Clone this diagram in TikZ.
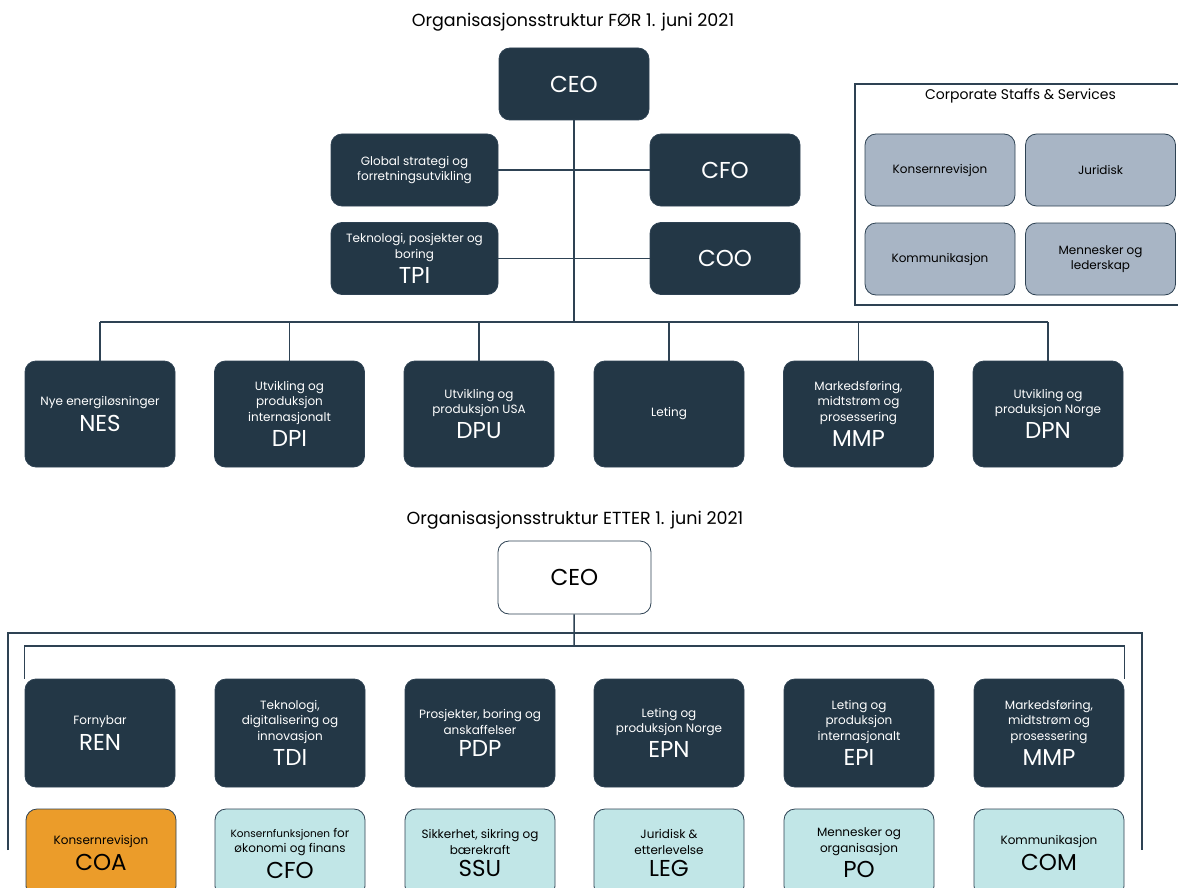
\documentclass[tikz,border=0pt]{standalone}
\usepackage{fontspec}
\setmainfont{Poppins}
\usetikzlibrary{positioning}
\definecolor{navy}{HTML}{233746}
\definecolor{wire}{HTML}{2E4253}
\definecolor{slate}{HTML}{A8B5C5}
\definecolor{amber}{HTML}{EB9C2A}
\definecolor{aqua}{HTML}{C1E6E7}
\newcommand{\boxtext}{\fontsize{12}{15.5}\selectfont}
\newcommand{\bigtext}{\fontsize{23}{26}\selectfont}
\newcommand{\unitcode}[1]{{\bigtext #1}}

\begin{document}
\begin{tikzpicture}[x=1pt,y=-1pt,
  unit/.style={rounded corners=11pt,draw=wire,line width=0.8pt,fill=navy,text=white,
    minimum width=150pt,minimum height=72pt,align=center,inner sep=1pt,font=\boxtext},
  unittall/.style={unit,minimum height=106pt},
  staff/.style={unit,fill=slate,text=black},
  support/.style={unit,fill=aqua,text=black,minimum height=88pt},
  wiring/.style={draw=wire,line width=1.5pt},
  heading/.style={font=\fontsize{17.5}{20}\selectfont}]
  \useasboundingbox[fill=white] (0,0) rectangle (1178,888);
  \def\rowA{414}
  \def\rowB{733}
  \def\rowC{853}
  \node[heading] (titleA) at (573,22) {Organisasjonsstruktur FØR 1. juni 2021};
  \node[unit,font=\bigtext] (ceoA) at (574,84) {CEO};
  \node[unit,minimum width=167pt] (gso) at (414.5,170) {Global strategi og\\forretningsutvikling};
  \node[unit,font=\bigtext] (cfoA) at (725,170) {CFO};
  \node[unit,minimum width=167pt] (tpi) at (414.5,258.5) {Teknologi, posjekter og\\boring\\[5pt]\unitcode{TPI}};
  \node[unit,font=\bigtext] (coo) at (725,258.5) {COO};
  \foreach \name/\x/\txt in {
    nes/100/{Nye energiløsninger\\[5pt]\unitcode{NES}},
    dpi/289.5/{Utvikling og\\produksjon\\internasjonalt\\[5pt]\unitcode{DPI}},
    dpu/479/{Utvikling og\\produksjon USA\\[5pt]\unitcode{DPU}},
    let/669/{Leting},
    mmpA/858.5/{Markedsføring,\\midtstrøm og\\prosessering\\[5pt]\unitcode{MMP}},
    dpn/1048/{Utvikling og\\produksjon Norge\\[5pt]\unitcode{DPN}}}
    \node[unittall] (\name) at (\x,\rowA) {\txt};
  \coordinate (busA) at (574,322);
  \draw[wiring] (ceoA) -- (ceoA |- busA);
  \draw[wiring] (gso) -- (cfoA);
  \draw[wiring] (tpi) -- (coo);
  \draw[wiring] (nes.north |- busA) -- (dpn.north |- busA);
  \foreach \name in {nes,dpi,dpu,let,mmpA,dpn}
    \draw[wiring] (\name) -- (\name.north |- busA);
  \node[draw=wire,line width=1.2pt,minimum width=331pt,minimum height=221pt] (css) at (1020.5,194.5) {};
  \node[font=\fontsize{14}{16}\selectfont,below=2pt of css.north] (csstitle) {Corporate Staffs \& Services};
  \node[staff] (krv) at (940,170) {Konsernrevisjon};
  \node[staff] (jur) at (1100.5,170) {Juridisk};
  \node[staff] (kom) at (940,259) {Kommunikasjon};
  \node[staff] (mol) at (1100.5,259) {Mennesker og\\lederskap};

  \node[heading] (titleB) at (575,520) {Organisasjonsstruktur ETTER 1. juni 2021};
  \node[unit,fill=white,text=black,font=\bigtext,minimum width=153pt,minimum height=73pt] (ceoB) at (574.5,577.5) {CEO};
  \foreach \name/\x/\txt in {
    ren/100/{Fornybar\\[5pt]\unitcode{REN}},
    tdi/290/{Teknologi,\\digitalisering og\\innovasjon\\[5pt]\unitcode{TDI}},
    pdp/480/{Prosjekter, boring og\\anskaffelser\\[5pt]\unitcode{PDP}},
    epn/669/{Leting og\\produksjon Norge\\[5pt]\unitcode{EPN}},
    epi/859/{Leting og\\produksjon\\internasjonalt\\[5pt]\unitcode{EPI}},
    mmpB/1049/{Markedsføring,\\midtstrøm og\\prosessering\\[5pt]\unitcode{MMP}}}
    \node[unittall,minimum height=108pt] (\name) at (\x,\rowB) {\txt};
  \node[support,fill=amber] (coa) at (101,\rowC) {Konsernrevisjon\\[5pt]\unitcode{COA}};
  \foreach \name/\x/\txt in {
    cfoB/290/{{\fontsize{10.5}{15}\selectfont Konsernfunksjonen} for\\økonomi og finans\\[5pt]\unitcode{CFO}},
    ssu/480/{Sikkerhet, sikring og\\bærekraft\\[5pt]\unitcode{SSU}},
    leg/669/{Juridisk \&\\etterlevelse\\[5pt]\unitcode{LEG}},
    po/859/{Mennesker og\\organisasjon\\[5pt]\unitcode{PO}},
    com/1049/{Kommunikasjon\\[5pt]\unitcode{COM}}}
    \node[support] (\name) at (\x,\rowC) {\txt};
  \coordinate (outerB) at (574,633);
  \coordinate (innerB) at (574,646);
  \coordinate (legL) at (8,850);
  \coordinate (legR) at (1142,850);
  \draw[wiring] (ceoB) -- (innerB);
  \draw[wiring] (legL) |- (outerB) -| (legR);
  \draw[wiring] (ren.north west) |- (innerB) -| (mmpB.north east);
\end{tikzpicture}
\end{document}
